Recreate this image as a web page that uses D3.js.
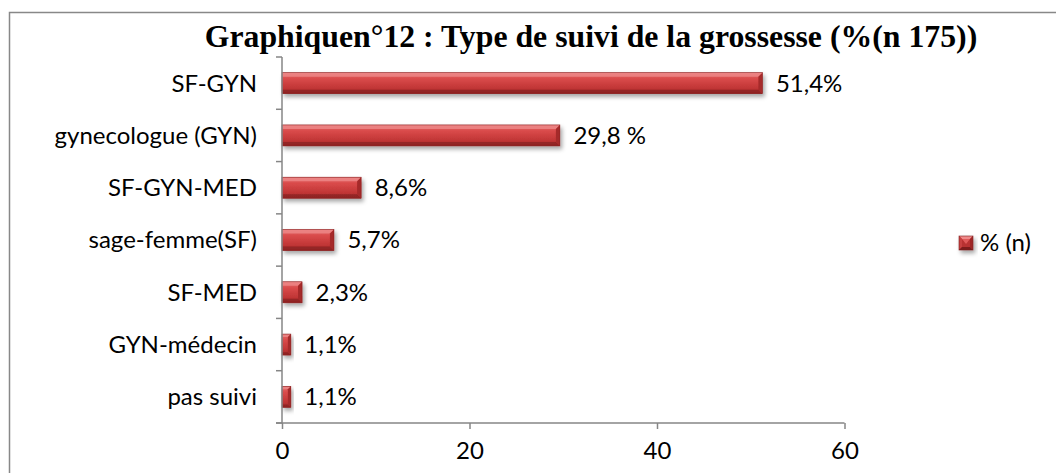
<!DOCTYPE html>
<html><head><meta charset="utf-8">
<script src="https://cdn.jsdelivr.net/npm/d3@7"></script>
<style>body{margin:0;background:#fff}svg{display:block}</style>
</head><body>
<svg id="c" width="1056" height="473"></svg>
<script>
const categories = ["SF-GYN","gynecologue (GYN)","SF-GYN-MED","sage-femme(SF)","SF-MED","GYN-médecin","pas suivi"];
const values = [51.4, 29.8, 8.6, 5.7, 2.3, 1.1, 1.1];
const valueLabels = ["51,4%","29,8 %","8,6%","5,7%","2,3%","1,1%","1,1%"];
const xTicks = [0, 20, 40, 60];
const seriesName = "% (n)";
const title = "Graphiquen°12 : Type de suivi de la grossesse (%(n 175))";

const svg = d3.select("#c");
const labelFont = "Lato, 'Open Sans', sans-serif";
const fs = 24;

const defs = svg.append("defs");
const g1 = defs.append("linearGradient").attr("id","barG").attr("x1",0).attr("y1",0).attr("x2",0).attr("y2",1);
g1.append("stop").attr("offset","0%").attr("stop-color","#e46a6a");
g1.append("stop").attr("offset","30%").attr("stop-color","#d94a4a");
g1.append("stop").attr("offset","75%").attr("stop-color","#c03535");
g1.append("stop").attr("offset","100%").attr("stop-color","#9e2828");
const f = defs.append("filter").attr("id","sh").attr("x","-20%").attr("y","-50%").attr("width","150%").attr("height","250%");
f.append("feDropShadow").attr("dx",2).attr("dy",3).attr("stdDeviation",2).attr("flood-color","#000").attr("flood-opacity",0.35);

// frame
svg.append("rect").attr("x",9.5).attr("y",12.5).attr("width",1100).attr("height",500)
  .attr("fill","none").attr("stroke","#888").attr("stroke-width",1.5);

// title
const tt = svg.append("text").attr("x",591).attr("y",47).attr("text-anchor","middle")
  .attr("font-family","'Liberation Serif', 'DejaVu Serif', serif").attr("font-weight","bold")
  .attr("font-size",30).attr("fill","#000").text(title);
const tw = tt.node().getComputedTextLength();
tt.attr("font-size", 30 * 773 / tw);

const x = d3.scaleLinear().domain([0,60]).range([282,844.5]);
const y = d3.scaleBand().domain(categories).range([57,423]).paddingInner(0.6).paddingOuter(0.3);
const step = y.step();

// bars
const bars = svg.append("g").selectAll("g").data(values).join("g")
  .attr("filter","url(#sh)");
bars.each(function(v,i){
  const gg = d3.select(this);
  const x0 = x(0), x1 = x(v) - 1.5;
  const yc = y(categories[i]) + y.bandwidth()/2;
  const h = 21, y0 = yc - h/2, y1 = yc + h/2;
  const b = Math.min(4, (x1-x0)/3);
  gg.append("rect").attr("x",x0).attr("y",y0).attr("width",x1-x0).attr("height",h).attr("fill","url(#barG)");
  gg.append("polygon").attr("points",`${x0},${y0} ${x1},${y0} ${x1-b},${y0+b} ${x0},${y0+b}`).attr("fill","#ee8a8a").attr("opacity",0.8);
  gg.append("polygon").attr("points",`${x0},${y1} ${x1},${y1} ${x1-b},${y1-b} ${x0},${y1-b}`).attr("fill","#8c2323").attr("opacity",0.8);
  gg.append("polygon").attr("points",`${x1},${y0} ${x1},${y1} ${x1-b},${y1-b} ${x1-b},${y0+b}`).attr("fill","#a52a2a");
  gg.append("rect").attr("x",x0).attr("y",y0).attr("width",x1-x0).attr("height",h).attr("fill","none").attr("stroke","#8a2020").attr("stroke-width",0.6);
});

// value labels
svg.append("g").selectAll("text").data(values).join("text")
  .attr("x",(d)=>x(d)+12).attr("y",(d,i)=>y(categories[i])+y.bandwidth()/2)
  .attr("dy","0.35em").attr("font-family",labelFont).attr("font-size",fs).attr("fill","#000")
  .text((d,i)=>valueLabels[i]);

// left axis
const ax = "#868686";
const ya = svg.append("g");
ya.append("line").attr("x1",282).attr("x2",282).attr("y1",57).attr("y2",423).attr("stroke",ax).attr("stroke-width",1.5);
d3.range(categories.length+1).forEach(k=>{
  const yy = 57 + k*step;
  ya.append("line").attr("x1",276).attr("x2",282).attr("y1",yy).attr("y2",yy).attr("stroke",ax).attr("stroke-width",1.5);
});
ya.selectAll("text").data(categories).join("text")
  .attr("x",257).attr("y",d=>y(d)+y.bandwidth()/2).attr("dy","0.35em").attr("text-anchor","end")
  .attr("font-family",labelFont).attr("font-size",fs).attr("fill","#000").text(d=>d);

// bottom axis
const xa = svg.append("g").attr("transform","translate(0,423)")
  .call(d3.axisBottom(x).tickValues(xTicks).tickSize(6).tickSizeOuter(0).tickPadding(13));
xa.select(".domain").attr("stroke",ax).attr("stroke-width",1.5).attr("d","M276,0H844.5");
xa.selectAll(".tick line").attr("stroke",ax).attr("stroke-width",1.5);
xa.selectAll(".tick text").attr("font-family",labelFont).attr("font-size",fs).attr("fill","#000");

// legend
const lg = svg.append("g").attr("transform","translate(959,236)").attr("filter","url(#sh)");
lg.append("rect").attr("width",14).attr("height",14).attr("fill","#b83030");
lg.append("polygon").attr("points","0,0 14,0 11,3 3,3").attr("fill","#f08a8a");
lg.append("polygon").attr("points","0,0 3,3 3,11 0,14").attr("fill","#c84040");
lg.append("polygon").attr("points","14,0 11,3 11,11 14,14").attr("fill","#a02828");
lg.append("polygon").attr("points","0,14 3,11 11,11 14,14").attr("fill","#7e1e1e");
lg.append("polygon").attr("points","3,3 11,3 7,8").attr("fill","#e05a5a");
lg.append("rect").attr("width",14).attr("height",14).attr("fill","none").attr("stroke","#7a1e1e").attr("stroke-width",0.6);
svg.append("text").attr("x",980).attr("y",243).attr("dy","0.35em").attr("font-family",labelFont).attr("font-size",fs).attr("fill","#000").text(seriesName);
</script>
</body></html>
